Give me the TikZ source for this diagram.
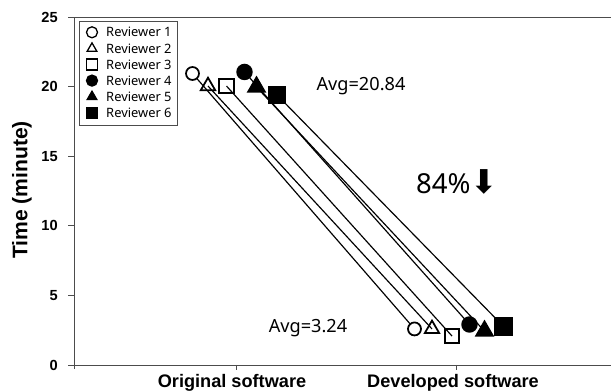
\documentclass[tikz,border=0pt]{standalone}
\usepackage{fontspec}
\setmainfont{Liberation Sans}
\newfontfamily\legendfont{Noto Sans}
\newfontfamily\arrowfont{DejaVu Sans}
\usetikzlibrary{shapes.geometric,backgrounds}

\tikzset{
  mk/.style={inner sep=0pt, line width=1.5pt, draw=black},
  ocirc/.style={mk, circle, fill=white, minimum size=0.39cm},
  otri/.style={mk, regular polygon, regular polygon sides=3, minimum size=0.5cm},
  osq/.style={mk, rectangle, minimum size=0.44cm},
  fcirc/.style={ocirc, fill=black, minimum size=0.44cm},
  ftri/.style={otri, fill=black, minimum size=0.58cm},
  fsq/.style={osq, fill=black, minimum size=0.5cm},
  link/.style={line width=1pt},
  axis/.style={line width=0.8pt, draw=black!70},
  ticklabel/.style={font=\fontsize{12.5}{14}\selectfont\bfseries, anchor=east, inner sep=0pt},
  axtitle/.style={font=\fontsize{15.5}{18}\selectfont\bfseries, inner sep=0pt},
  note/.style={font=\legendfont\fontsize{15.5}{18}\selectfont, inner sep=0pt},
}

\begin{document}
\begin{tikzpicture}[x=0.03cm, y=0.03cm]
  \useasboundingbox (0,0) rectangle (611,392);

  % frame and axes
  \draw[axis] (74,375) -- (611,375);
  \draw[axis] (74,23) -- (74,375);
  \draw[axis] (74,27) -- (611,27);
  \draw[axis] (236,27) -- (236,22);
  \draw[axis] (456,27) -- (456,22);

  \node[axtitle, font=\fontsize{18}{20}\selectfont\bfseries, rotate=90] (ylab) at (22,202) {Time (minute)};
  \node[axtitle] (xorig) at (232,9) {Original software};
  \node[axtitle] (xdev) at (453,9) {Developed software};

  \begin{scope}[shift={(74,27)}, y=0.4176cm]
    \foreach \v in {0,5,...,25} {
      \draw[axis] (-6,\v) -- (0,\v);
      \node[ticklabel] at (-16,\v) {\v};
    }

    % before
    \node[ocirc] (o1) at (118.5,20.94) {};
    \node[otri]  (o2) at (134,20.04) {};
    \node[osq]   (o3) at (152.5,20.04) {};
    \node[fcirc] (o4) at (170.5,21.05) {};
    \node[ftri]  (o5) at (182.5,19.97) {};
    \node[fsq]   (o6) at (203,19.40) {};

    % after
    \node[ocirc] (d1) at (340.5,2.59) {};
    \node[otri]  (d2) at (358,2.59) {};
    \node[osq]   (d3) at (378,2.08) {};
    \node[fcirc] (d4) at (395.5,2.91) {};
    \node[ftri]  (d5) at (410.5,2.44) {};
    \node[fsq]   (d6) at (429.5,2.77) {};

    \begin{pgfonlayer}{background}
      \foreach \k in {1,...,6}
        \draw[link] (o\k.center) -- (d\k.center);
    \end{pgfonlayer}
  \end{scope}

  \node[note] (avgbefore) at (361,306) {Avg=20.84};
  \node[note] (avgafter) at (308,64) {Avg=3.24};
  \node[note, font=\legendfont\fontsize{23.5}{26}\selectfont] (drop) at (457,210)
    {84\%{\arrowfont\fontsize{28}{30}\selectfont ⬇}};

  % legend
  \draw[line width=0.6pt, draw=black!70] (79,371) rectangle (177,267);
  \foreach \st/\k in {ocirc/1, otri/2, osq/3, fcirc/4, ftri/5, fsq/6} {
    \node[\st, minimum size=0.33cm, line width=1.1pt] (leg\k) at (92,{359.7-16.1*(\k-1)}) {};
    \node[anchor=west, inner sep=0pt, font=\legendfont\fontsize{11}{13}\selectfont]
      (legtxt\k) at (106,{359.7-16.1*(\k-1)}) {Reviewer \k};
  }
\end{tikzpicture}
\end{document}
